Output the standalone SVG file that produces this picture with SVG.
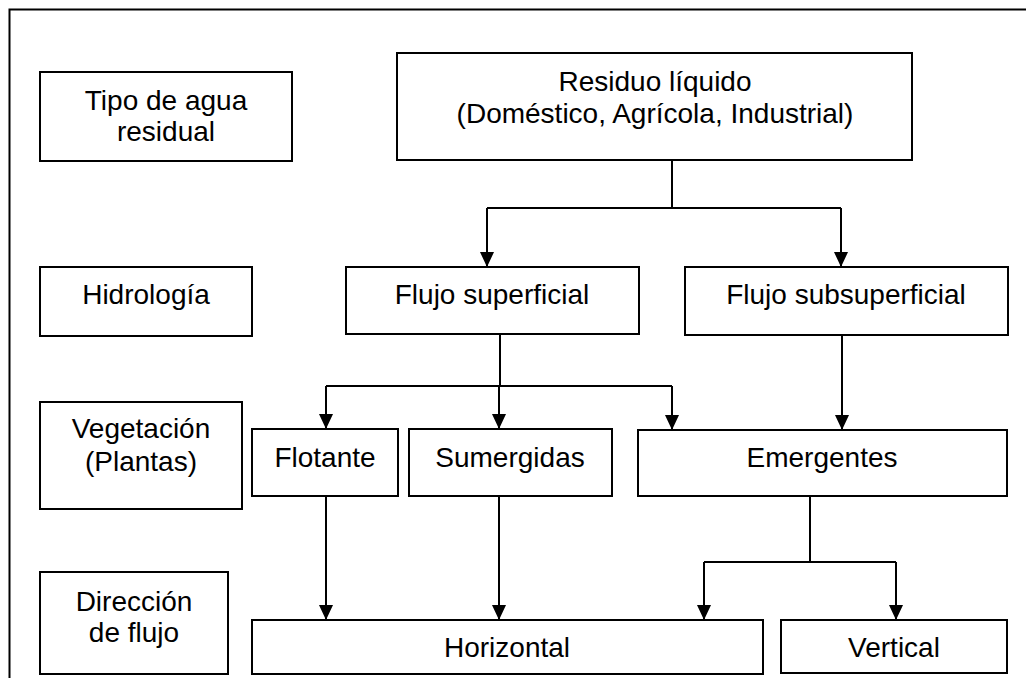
<svg xmlns="http://www.w3.org/2000/svg" width="1026" height="678" viewBox="0 0 1026 678">
<style>
.box{fill:#fff;stroke:#000;stroke-width:2}
.t{font-family:"Liberation Sans",Arial,sans-serif;font-size:28px;fill:#000;text-anchor:middle}
.c{fill:none;stroke:#000;stroke-width:2}
.a{marker-end:url(#arr)}
</style>
<defs>
<marker id="arr" markerUnits="userSpaceOnUse" markerWidth="16" markerHeight="14" refX="15" refY="7" orient="auto">
<path d="M0,0 L15,7 L0,14 z" fill="#000"/>
</marker>
</defs>
<rect width="1026" height="678" fill="#fff"/>
<path d="M9.5,678 V9.5 H1026" fill="none" stroke="#000" stroke-width="2"/>
<g id="connectors">
<path class="c" d="M672,160 V208" stroke-width="1.5"/>
<path class="c" d="M487,208 H841"/>
<path class="c a" d="M487,208 V267"/>
<path class="c a" d="M841,208 V267"/>
<path class="c" d="M500,334 V386"/>
<path class="c" d="M326,386 H672"/>
<path class="c a" d="M326,386 V429"/>
<path class="c a" d="M499,386 V429"/>
<path class="c a" d="M672,386 V430"/>
<path class="c a" d="M842,335 V430"/>
<path class="c a" d="M326,496 V620"/>
<path class="c a" d="M499,496 V620"/>
<path class="c" d="M810,496 V562"/>
<path class="c" d="M704,562 H896"/>
<path class="c a" d="M704,562 V620"/>
<path class="c a" d="M896,562 V620"/>
</g>
<g id="tipo"><rect class="box" x="40" y="72" width="252" height="89"/><text class="t" x="166" y="110">Tipo de agua</text><text class="t" x="166" y="141">residual</text></g>
<g id="residuo"><rect class="box" x="397" y="53" width="515" height="107"/><text class="t" x="655" y="91">Residuo líquido</text><text class="t" x="655" y="123">(Doméstico, Agrícola, Industrial)</text></g>
<g id="hidrologia"><rect class="box" x="40" y="267" width="212" height="69"/><text class="t" x="146" y="304">Hidrología</text></g>
<g id="flujo-superficial"><rect class="box" x="346" y="267" width="293" height="67"/><text class="t" x="492" y="304">Flujo superficial</text></g>
<g id="flujo-subsuperficial"><rect class="box" x="685" y="267" width="323" height="68"/><text class="t" x="846" y="304">Flujo subsuperficial</text></g>
<g id="vegetacion"><rect class="box" x="40" y="402" width="202" height="107"/><text class="t" x="141" y="438">Vegetación</text><text class="t" x="141" y="471">(Plantas)</text></g>
<g id="flotante"><rect class="box" x="252" y="429" width="146" height="67"/><text class="t" x="325" y="467">Flotante</text></g>
<g id="sumergidas"><rect class="box" x="409" y="429" width="203" height="67"/><text class="t" x="510" y="467">Sumergidas</text></g>
<g id="emergentes"><rect class="box" x="638" y="430" width="369" height="66"/><text class="t" x="822" y="467">Emergentes</text></g>
<g id="direccion"><rect class="box" x="40" y="572" width="188" height="102"/><text class="t" x="134" y="611">Dirección</text><text class="t" x="134" y="642">de flujo</text></g>
<g id="horizontal"><rect class="box" x="252" y="620" width="511" height="54"/><text class="t" x="507" y="657">Horizontal</text></g>
<g id="vertical"><rect class="box" x="781" y="620" width="226" height="53"/><text class="t" x="894" y="657">Vertical</text></g>
</svg>
